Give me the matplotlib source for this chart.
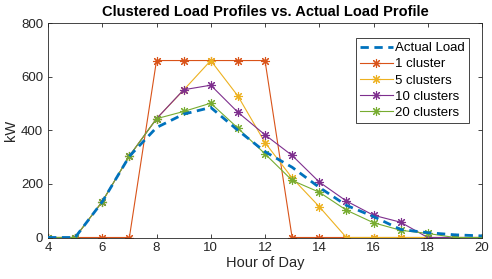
import matplotlib
matplotlib.use("Agg")
import matplotlib.pyplot as plt
import numpy as np

plt.rcParams['font.family'] = ['Liberation Sans', 'DejaVu Sans']

hours = list(range(4, 21))
actual_load = [0, 0, 133, 303, 410, 460, 485, 400, 320, 262, 187, 120, 78, 30, 18, 10, 6]
cluster_1 = [0, 0, 0, 0, 660, 660, 660, 660, 660, 0, 0, 0, 0, 0, 0, 0, 0]
cluster_5 = [0, 0, 134, 304, 443, 550, 660, 528, 354, 222, 115, 0, 0, 0, 0, 0, 0]
cluster_10 = [0, 0, 134, 304, 443, 551, 568, 467, 383, 306, 207, 136, 83, 57, 0, 0, 0]
cluster_20 = [0, 0, 134, 304, 443, 470, 501, 408, 312, 213, 169, 102, 55, 27, 15, 0, 0]

series = [
    (cluster_1, (0.85, 0.325, 0.098), "1 cluster"),
    (cluster_5, (0.929, 0.694, 0.125), "5 clusters"),
    (cluster_10, (0.494, 0.184, 0.556), "10 clusters"),
    (cluster_20, (0.466, 0.674, 0.188), "20 clusters"),
]

fig = plt.figure(figsize=(4.92, 2.79), dpi=100)
ax = fig.add_axes([48 / 492, 1 - 237.5 / 279, 434 / 492, 214.5 / 279])

ax.plot(hours, actual_load, '--', color=(0, 0.447, 0.741), linewidth=2.0,
        dashes=(3, 2), label="Actual Load", zorder=5)
star = (8, 2, 0)
for vals, col, lab in series:
    ax.plot(hours, vals, color=col, linewidth=0.8, marker=star, markersize=6.5,
            markeredgewidth=0.8, label=lab)

ax.set_xlim(4, 20)
ax.set_ylim(0, 800)
ax.set_xticks(range(4, 21, 2))
ax.set_yticks(range(0, 801, 200))
ax.tick_params(direction='in', top=True, right=True, length=3, labelsize=9.5,
               colors='#262626', width=0.6)
for s in ax.spines.values():
    s.set_linewidth(0.6)
    s.set_color('#262626')

ax.set_xlabel("Hour of Day", fontsize=10.5, color='#262626', labelpad=1)
ax.set_ylabel("kW", fontsize=10.5, color='#262626', labelpad=2)
ax.set_title("Clustered Load Profiles vs. Actual Load Profile",
             fontsize=10.5, fontweight='bold', pad=5)

leg = ax.legend(loc='upper right', bbox_to_anchor=(0.970, 0.93), fontsize=9.5,
                fancybox=False, framealpha=1, edgecolor='#262626',
                handlelength=2.5, borderpad=0.3, labelspacing=0.3,
                handletextpad=0.2, borderaxespad=0)
leg.get_frame().set_linewidth(0.6)

fig.savefig("out.png", dpi=100)
